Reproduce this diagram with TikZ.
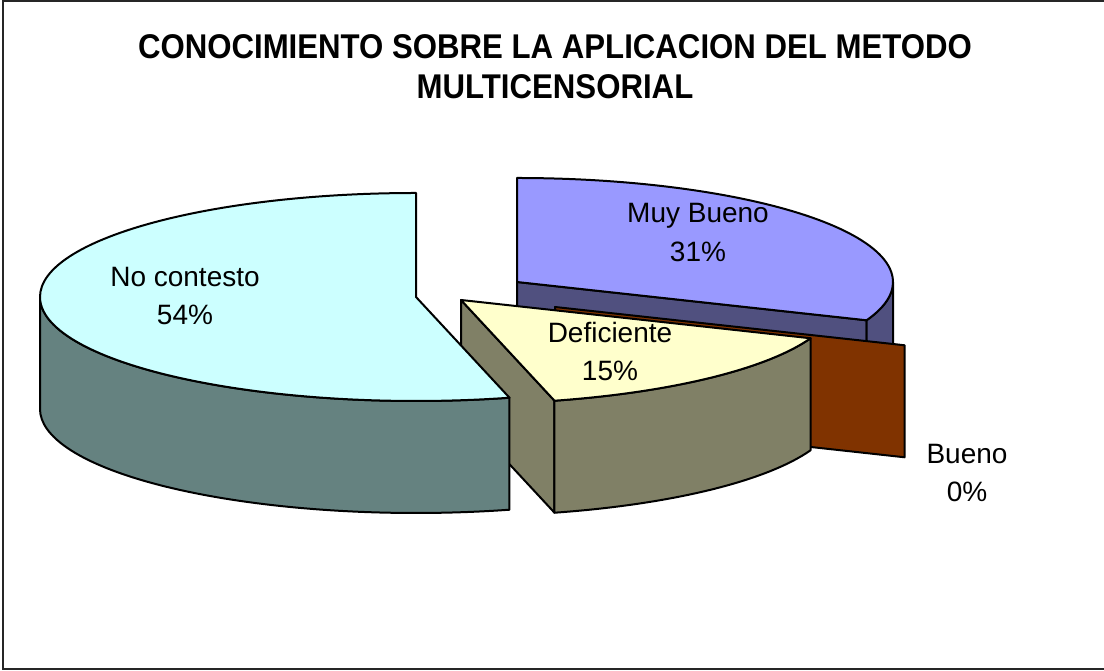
\documentclass[tikz,border=0pt]{standalone}
\usepackage{fontspec}
\setmainfont{Liberation Sans}
\usetikzlibrary{calc}
\definecolor{nctop}{HTML}{CCFFFF}
\definecolor{ncside}{HTML}{658280}
\definecolor{dftop}{HTML}{FFFFCC}
\definecolor{dfside}{HTML}{808066}
\definecolor{mbtop}{HTML}{9999FF}
\definecolor{mbside}{HTML}{50507F}
\definecolor{bnface}{HTML}{803300}
\begin{document}
\begin{tikzpicture}[x=1pt,y=1pt,
  pieface/.style={draw=black,line width=2pt,line join=round},
  lbl/.style={anchor=base,inner sep=0pt,font=\fontsize{28}{34}\selectfont},
  ttl/.style={anchor=base,inner sep=0pt,xscale=0.945,yscale=1.04,font=\fontsize{33}{40}\selectfont\bfseries}]
\def\ra{376}\def\rb{104}\def\hh{112}
\useasboundingbox (0,0) rectangle (1104,671);
\draw[line width=2pt,draw=black!85] (3,1.5) rectangle (1115,669.5);
% centres
\coordinate (mbC) at (517,389);
\coordinate (bC) at (555,364);
\coordinate (dC) at (461,371);
\coordinate (nC) at (416,374);
\coordinate (mbR) at ($(mbC)+({\ra*cos(-21.6)},{\rb*sin(-21.6)})$);
\coordinate (bR) at ($(bC)+({\ra*cos(-21.6)},{\rb*sin(-21.6)})$);
\coordinate (dR) at ($(dC)+({\ra*cos(-21.6)},{\rb*sin(-21.6)})$);
\coordinate (dF) at ($(dC)+({\ra*cos(-75.6)},{\rb*sin(-75.6)})$);
% Muy Bueno
\path[pieface,fill=mbside] (mbC) -- (mbR) -- ($(mbR)+(0,-\hh)$) -- ($(mbC)+(0,-\hh)$) -- cycle;
\path[pieface,fill=mbside] ($(mbC)+(\ra,0)$) arc[start angle=0,end angle=-21.6,x radius=\ra,y radius=\rb]
  -- ++(0,-\hh) arc[start angle=-21.6,end angle=0,x radius=\ra,y radius=\rb] -- cycle;
\path[pieface,fill=mbtop] (mbC) -- ($(mbC)+(0,\rb)$) arc[start angle=90,end angle=-21.6,x radius=\ra,y radius=\rb] -- cycle;
% Bueno
\path[pieface,fill=bnface] (bC) -- (bR) -- ($(bR)+(0,-\hh)$) -- ($(bC)+(0,-\hh)$) -- cycle;
% Deficiente
\path[pieface,fill=dfside] (dC) -- (dF) -- ($(dF)+(0,-\hh)$) -- ($(dC)+(0,-\hh)$) -- cycle;
\path[pieface,fill=dfside] (dR) arc[start angle=-21.6,end angle=-75.6,x radius=\ra,y radius=\rb]
  -- ++(0,-\hh) arc[start angle=-75.6,end angle=-21.6,x radius=\ra,y radius=\rb] -- cycle;
\path[pieface,fill=dftop] (dC) -- (dR) arc[start angle=-21.6,end angle=-75.6,x radius=\ra,y radius=\rb] -- cycle;
% No contesto
\path[pieface,fill=ncside] ($(nC)+(-\ra,0)$) arc[start angle=180,end angle=284.4,x radius=\ra,y radius=\rb]
  -- ++(0,-\hh) arc[start angle=284.4,end angle=180,x radius=\ra,y radius=\rb] -- cycle;
\path[pieface,fill=nctop] (nC) -- ($(nC)+(0,\rb)$) arc[start angle=90,end angle=284.4,x radius=\ra,y radius=\rb] -- cycle;
% labels
\node[lbl] (mbname) at (698,448) {Muy Bueno};
\node[lbl] (mbpct) at (698,409) {31\%};
\node[lbl] (dfname) at (610,328) {Deficiente};
\node[lbl] (dfpct) at (610,290) {15\%};
\node[lbl] (ncname) at (185,384) {No contesto};
\node[lbl] (ncpct) at (185,346) {54\%};
\node[lbl] (bnname) at (967,207) {Bueno};
\node[lbl] (bnpct) at (967,169) {0\%};
% title
\node[ttl] (title1) at (555,612) {CONOCIMIENTO SOBRE LA APLICACION DEL METODO};
\node[ttl] (title2) at (555,572) {MULTICENSORIAL};
\end{tikzpicture}
\end{document}
